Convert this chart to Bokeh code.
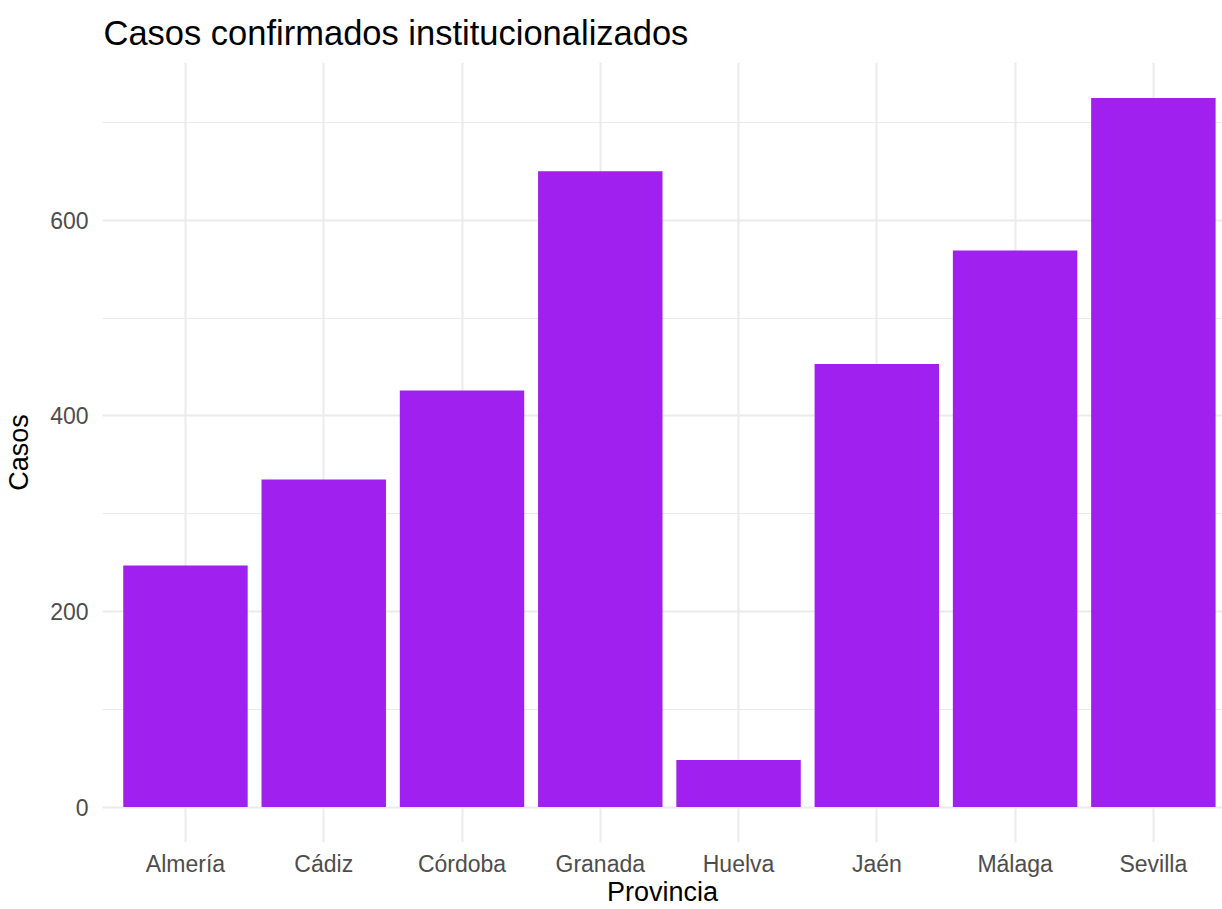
from bokeh.plotting import figure
from bokeh.models import Range1d, FixedTicker, ColumnDataSource
from bokeh.embed import file_html
from bokeh.resources import INLINE

provincias = ["Almería", "Cádiz", "Córdoba", "Granada", "Huelva", "Jaén", "Málaga", "Sevilla"]
casos = [247, 335, 426, 650, 48, 453, 569, 725]
y_ticks = [0, 200, 400, 600]
y_minor = [100, 300, 500, 700]

pos = list(range(1, len(provincias) + 1))
src = ColumnDataSource(dict(x=pos, top=casos, prov=provincias))

ymax = max(casos)
p = figure(width=1222, height=909, frame_width=1120, frame_height=780,
           output_backend="svg", toolbar_location=None,
           x_range=Range1d(0.4, 8.5), y_range=Range1d(-0.05 * ymax, 1.05 * ymax),
           min_border_left=102, min_border_right=0, min_border_top=62, min_border_bottom=67)
p.outline_line_color = None
p.background_fill_color = "white"
p.border_fill_color = "white"

p.vbar(x="x", top="top", bottom=0, width=0.9, source=src,
       fill_color="#A020F0", line_color=None)

FONT = "Liberation Sans"
p.title.text = "Casos confirmados institucionalizados"
p.title.text_font = FONT
p.title.text_font_size = "34.5px"
p.title.text_font_style = "normal"
p.title.text_color = "black"
p.title.align = "left"
p.title.offset = 1
p.title.standoff = 21

p.xaxis.ticker = FixedTicker(ticks=pos)
p.xaxis.major_label_overrides = {i: n for i, n in zip(pos, provincias)}
p.yaxis.ticker = FixedTicker(ticks=y_ticks, minor_ticks=y_minor)

for ax in (p.xaxis[0], p.yaxis[0]):
    ax.axis_line_color = None
    ax.major_tick_line_color = None
    ax.minor_tick_line_color = None
    ax.major_tick_out = 0
    ax.major_tick_in = 0
    ax.minor_tick_out = 0
    ax.minor_tick_in = 0
    ax.major_label_text_font = FONT
    ax.major_label_text_font_size = "23px"
    ax.major_label_text_color = "#4D4D4D"
    ax.axis_label_text_font = FONT
    ax.axis_label_text_font_size = "27px"
    ax.axis_label_text_font_style = "normal"
    ax.axis_label_text_color = "black"

p.xaxis.axis_label = "Provincia"
p.yaxis.axis_label = "Casos"
p.xaxis.major_label_standoff = 8
p.xaxis.axis_label_standoff = -3
p.yaxis.major_label_standoff = 14
p.yaxis.axis_label_standoff = 13

p.xgrid.ticker = FixedTicker(ticks=pos)
p.xgrid.grid_line_color = "#EBEBEB"
p.xgrid.grid_line_width = 2
p.ygrid.grid_line_color = "#EBEBEB"
p.ygrid.grid_line_width = 2
p.ygrid.minor_grid_line_color = "#EBEBEB"
p.ygrid.minor_grid_line_width = 1.2

open("out.html", "w").write(file_html(p, INLINE))
